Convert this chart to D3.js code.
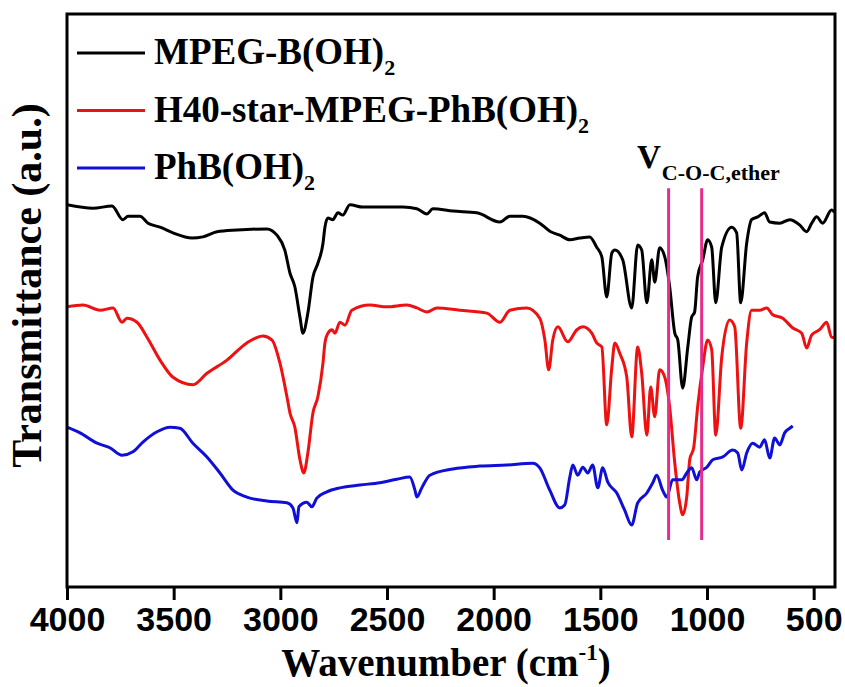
<!DOCTYPE html>
<html>
<head>
<meta charset="utf-8">
<script src="https://cdn.jsdelivr.net/npm/d3@7"></script>
<style>
  html, body { margin: 0; padding: 0; background: #fff; }
</style>
</head>
<body>
<div id="chart"></div>
<script>
// FTIR spectra, [wavenumber cm-1, transmittance a.u.]
const mpegB = [
  [4000,66.7],[3878,66.1],[3789,66.5],[3738,64.1],[3714,64.7],[3658,64.7],[3620,63.5],[3564,62.8],
  [3503,61.8],[3414,60.9],[3363,61.1],[3297,62.0],[3203,62.3],[3063,62.5],[3016,61.4],[2979,58.8],
  [2955,54.8],[2932,52.4],[2908,47.1],[2894,44.3],[2871,47.8],[2847,54.1],[2824,56.5],[2800,60.0],
  [2791,62.8],[2777,64.4],[2754,64.1],[2730,65.3],[2707,64.9],[2674,66.7],[2613,66.3],[2426,66.3],
  [2360,66.0],[2313,65.1],[2285,66.0],[2191,65.6],[2079,65.3],[1971,63.7],[1924,64.7],[1863,64.7],
  [1784,63.5],[1737,62.1],[1690,61.4],[1643,60.6],[1596,60.9],[1550,61.1],[1517,59.3],[1493,57.6],
  [1470,50.6],[1446,58.3],[1432,58.8],[1395,57.1],[1353,48.7],[1325,59.7],[1306,58.8],[1282,49.6],
  [1259,57.1],[1245,53.2],[1222,59.2],[1198,57.6],[1175,52.4],[1151,44.3],[1137,43.1],[1114,34.7],
  [1090,41.9],[1072,47.1],[1058,48.0],[1044,54.1],[1020,57.1],[997,60.6],[978,59.3],[959,49.6],
  [931,59.3],[884,62.8],[861,61.8],[842,49.6],[814,60.0],[791,64.1],[762,64.6],[730,65.3],
  [706,63.7],[659,63.5],[612,64.1],[566,63.2],[533,62.0],[509,63.5],[486,64.6],[458,63.5],
  [416,65.8],[402,65.4]
];

const h40Star = [
  [4000,48.9],[3925,49.2],[3845,48.3],[3784,48.7],[3742,46.2],[3719,46.9],[3672,46.2],[3625,43.6],
  [3564,39.6],[3503,36.6],[3410,35.3],[3344,37.3],[3250,39.6],[3157,42.6],[3082,43.8],[3039,43.1],
  [3002,39.1],[2969,33.2],[2955,30.4],[2932,27.9],[2908,22.2],[2890,19.9],[2871,23.4],[2847,30.4],
  [2824,33.2],[2800,39.1],[2791,42.6],[2777,44.3],[2758,44.9],[2744,44.3],[2721,46.2],[2697,45.7],
  [2665,48.3],[2580,49.2],[2501,48.9],[2407,49.2],[2360,48.7],[2313,48.0],[2266,48.7],[2159,48.3],
  [2032,47.8],[1971,46.2],[1924,48.3],[1845,48.7],[1784,46.9],[1760,43.1],[1742,37.9],[1723,43.1],
  [1699,45.4],[1653,42.8],[1610,44.9],[1582,45.4],[1540,44.3],[1517,42.6],[1493,41.9],[1470,28.3],
  [1446,38.4],[1432,42.6],[1409,40.8],[1376,36.6],[1353,26.2],[1325,41.9],[1306,37.3],[1282,26.5],
  [1264,34.9],[1245,29.7],[1222,37.9],[1198,36.6],[1175,31.4],[1151,21.6],[1128,14.7],[1114,12.6],
  [1095,15.7],[1081,22.2],[1062,24.4],[1044,31.4],[1020,38.4],[997,43.1],[978,41.4],[959,26.5],
  [931,40.1],[894,46.6],[870,45.4],[842,27.7],[814,42.6],[791,48.3],[753,48.3],[720,48.7],
  [692,47.5],[645,46.9],[598,45.2],[556,44.3],[533,41.7],[509,44.0],[472,44.9],[439,46.2],
  [416,43.6],[402,43.5]
];

const phB = [
  [4000,27.9],[3939,26.9],[3859,25.1],[3799,24.3],[3742,23.0],[3691,23.6],[3644,25.3],[3578,27.1],
  [3517,27.9],[3471,27.7],[3410,25.1],[3344,22.7],[3283,19.9],[3222,16.9],[3157,15.7],[3063,15.0],
  [2969,14.7],[2941,13.8],[2922,11.2],[2913,14.0],[2876,14.8],[2852,14.0],[2829,15.5],[2782,16.6],
  [2721,17.3],[2627,17.8],[2533,18.2],[2454,18.8],[2393,19.2],[2369,16.9],[2360,15.7],[2337,17.3],
  [2299,19.5],[2191,20.6],[2065,21.1],[1938,21.3],[1817,21.6],[1784,20.8],[1737,16.9],[1690,13.8],
  [1667,14.3],[1643,19.2],[1629,21.3],[1606,19.5],[1582,20.9],[1559,19.9],[1536,21.3],[1512,17.3],
  [1489,20.8],[1465,18.3],[1423,16.4],[1386,13.4],[1353,10.8],[1325,14.7],[1282,16.4],[1254,18.2],
  [1236,19.5],[1208,16.9],[1189,15.7],[1161,18.7],[1118,18.7],[1095,19.9],[1072,20.8],[1048,18.7],
  [1034,20.1],[1001,20.9],[973,22.2],[926,22.7],[880,23.9],[856,23.4],[837,20.4],[814,23.4],
  [786,25.1],[753,24.4],[730,25.7],[706,22.5],[683,26.0],[659,24.8],[636,26.9],[612,27.7],[598,28.1]
];

const seriesNames = ["MPEG-B(OH)", "H40-star-MPEG-PhB(OH)", "PhB(OH)"];
const seriesColors = ["#000000", "#ee1111", "#0f0fd6"];
const xTicks = [4000, 3500, 3000, 2500, 2000, 1500, 1000, 500];
const etherBands = [1180, 1025]; // C-O-C ether stretch markers
const etherBandTop = 69.6, etherBandBottom = 8.2;

const width = 845, height = 687;
const plotL = 67, plotR = 835, plotT = 14, plotB = 587;
const serif = "'Liberation Serif','Times New Roman',serif";
const sans = "'Liberation Sans',Arial,sans-serif";

const svg = d3.select("#chart").append("svg")
  .attr("width", width)
  .attr("height", height);

const x = d3.scaleLinear().domain([4000, 400]).range([plotL, plotR]);
const y = d3.scaleLinear().domain([0, 100]).range([plotB, plotT]);

svg.append("defs").append("clipPath").attr("id", "plot")
  .append("rect").attr("x", plotL).attr("y", plotT)
  .attr("width", plotR - plotL).attr("height", plotB - plotT);

const line = d3.line()
  .x(d => x(d[0]))
  .y(d => y(d[1]))
  .curve(d3.curveMonotoneX);

// spectra
const gLines = svg.append("g").attr("clip-path", "url(#plot)");
[mpegB, h40Star, phB].forEach((s, i) => {
  gLines.append("path")
    .datum(s)
    .attr("fill", "none")
    .attr("stroke", seriesColors[i])
    .attr("stroke-width", 3)
    .attr("stroke-linejoin", "round")
    .attr("d", line);
});

// ether band markers
svg.append("g").selectAll("line")
  .data(etherBands)
  .join("line")
    .attr("x1", d => x(d)).attr("x2", d => x(d))
    .attr("y1", y(etherBandTop)).attr("y2", y(etherBandBottom))
    .attr("stroke", "#e42e8c")
    .attr("stroke-width", 3);

// frame
svg.append("rect")
  .attr("x", plotL).attr("y", plotT)
  .attr("width", plotR - plotL).attr("height", plotB - plotT)
  .attr("fill", "none")
  .attr("stroke", "#000")
  .attr("stroke-width", 3);

// bottom axis
const xAxis = svg.append("g")
  .attr("transform", `translate(0,${plotB})`)
  .call(d3.axisBottom(x).tickValues(xTicks).tickSize(13).tickPadding(7).tickFormat(d3.format("d")));
xAxis.select(".domain").remove();
xAxis.selectAll(".tick line").attr("stroke", "#000").attr("stroke-width", 3);
xAxis.selectAll(".tick text")
  .attr("fill", "#000")
  .style("font-family", sans)
  .style("font-weight", "bold")
  .style("font-size", "34px");

// axis titles
const xTitle = svg.append("text")
  .attr("x", 446)
  .attr("y", 676)
  .attr("text-anchor", "middle")
  .style("font-family", serif)
  .style("font-weight", "bold")
  .style("font-size", "39px");
xTitle.append("tspan").text("Wavenumber (cm");
xTitle.append("tspan").attr("dy", -16).style("font-size", "23px").text("-1");
xTitle.append("tspan").attr("dy", 16).text(")");

svg.append("text")
  .attr("transform", `translate(41,${(plotT + plotB) / 2 - 15}) rotate(-90)`)
  .attr("text-anchor", "middle")
  .style("font-family", serif)
  .style("font-weight", "bold")
  .style("font-size", "42px")
  .text("Transmittance (a.u.)");

// legend
const legend = svg.append("g");
seriesNames.forEach((name, i) => {
  const cy = 53 + i * 57.5;
  legend.append("line")
    .attr("x1", 77).attr("x2", 145)
    .attr("y1", cy).attr("y2", cy)
    .attr("stroke", seriesColors[i])
    .attr("stroke-width", 3);
  const t = legend.append("text")
    .attr("x", 154).attr("y", cy + 11)
    .style("font-family", serif)
    .style("font-weight", "bold")
    .style("font-size", "37px");
  t.append("tspan").text(name);
  t.append("tspan").attr("dy", 11).style("font-size", "22px").text("2");
});

// band annotation
const ann = svg.append("text")
  .attr("x", 637).attr("y", 168)
  .style("font-family", serif)
  .style("font-weight", "bold")
  .style("font-size", "33px");
ann.append("tspan").text("V");
ann.append("tspan").attr("dy", 12).attr("dx", 1).style("font-size", "22px").text("C-O-C,ether");
</script>
</body>
</html>
